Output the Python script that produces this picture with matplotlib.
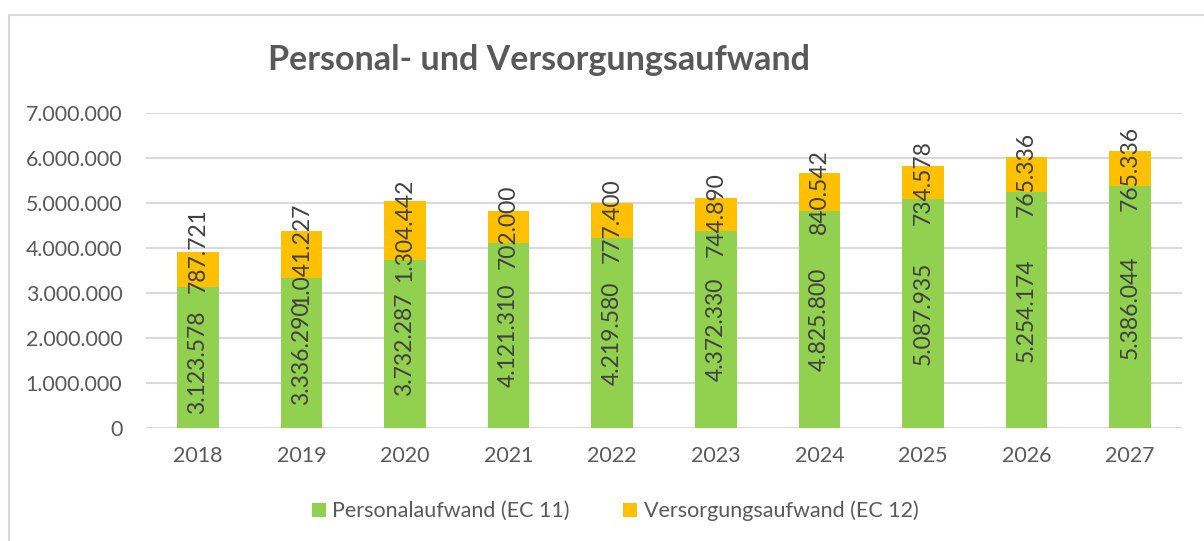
import matplotlib
matplotlib.use("Agg")
import matplotlib.pyplot as plt
from matplotlib.patches import Rectangle
from matplotlib.ticker import FuncFormatter

years = ["2018", "2019", "2020", "2021", "2022", "2023", "2024", "2025", "2026", "2027"]
personal = [3123578, 3336290, 3732287, 4121310, 4219580, 4372330, 4825800, 5087935, 5254174, 5386044]
versorgung = [787721, 1041227, 1304442, 702000, 777400, 744890, 840542, 734578, 765336, 765336]
series_names = ["Personalaufwand (EC 11)", "Versorgungsaufwand (EC 12)"]
title = "Personal- und Versorgungsaufwand"

GREEN = "#92D050"
ORANGE = "#FFC000"
TXT = "#595959"
LBL = "#404040"

# label nudges (points) where the chart app moved overlapping labels apart
nudge = {("p", 0): -3.6, ("v", 0): 13.5}

plt.rcParams['font.family'] = ['Lato', 'DejaVu Sans']

W, H = 1204, 541
fig = plt.figure(figsize=(W / 100, H / 100), dpi=100)

# chart frame
fig.patches.append(Rectangle((9 / W, -0.1), 1.2, (H - 15) / H + 0.1, transform=fig.transFigure,
                             fill=False, edgecolor="#D9D9D9", linewidth=1.5, zorder=0))

ax = fig.add_axes([146 / W, (H - 428) / H, 1036 / W, 315 / H])

def fmt(v):
    return f"{int(round(v)):,}".replace(",", ".")

x = list(range(len(years)))
b1 = ax.bar(x, personal, width=0.4, color=GREEN, label=series_names[0], zorder=3)
b2 = ax.bar(x, versorgung, width=0.4, bottom=personal, color=ORANGE, label=series_names[1], zorder=3)

for key, vals, bottoms in (("p", personal, [0] * len(x)), ("v", versorgung, personal)):
    for xi, v, b in zip(x, vals, bottoms):
        ax.annotate(fmt(v), (xi, b + v / 2), xytext=(0, nudge.get((key, xi), 0)),
                    textcoords="offset points", rotation=90, ha="center", va="center",
                    fontsize=16.5, color=LBL, zorder=4)

ax.set_xlim(-0.5, len(x) - 0.5)
ax.set_ylim(0, 7000000)
ax.set_yticks(range(0, 7000001, 1000000))
ax.yaxis.set_major_formatter(FuncFormatter(lambda v, p: fmt(v)))
ax.set_xticks(x)
ax.set_xticklabels(years)
ax.grid(axis="y", color="#D9D9D9", linewidth=1.5, zorder=0)
for s in ax.spines.values():
    s.set_visible(False)
ax.tick_params(axis="both", length=0, labelsize=15.4, labelcolor=TXT)
ax.tick_params(axis="y", pad=17)
ax.tick_params(axis="x", pad=13)

fig.text(539 / W, 1 - 60 / H, title, ha="center", va="center", fontsize=24.5,
         fontweight="bold", color=TXT)

leg = fig.legend(loc="center", bbox_to_anchor=(615 / W, 1 - 511 / H), ncol=2, frameon=False,
                 fontsize=15.5, handlelength=0.65, handleheight=0.65, handletextpad=0.3,
                 columnspacing=2.5, labelcolor=TXT)

fig.savefig("out.png", dpi=100)
